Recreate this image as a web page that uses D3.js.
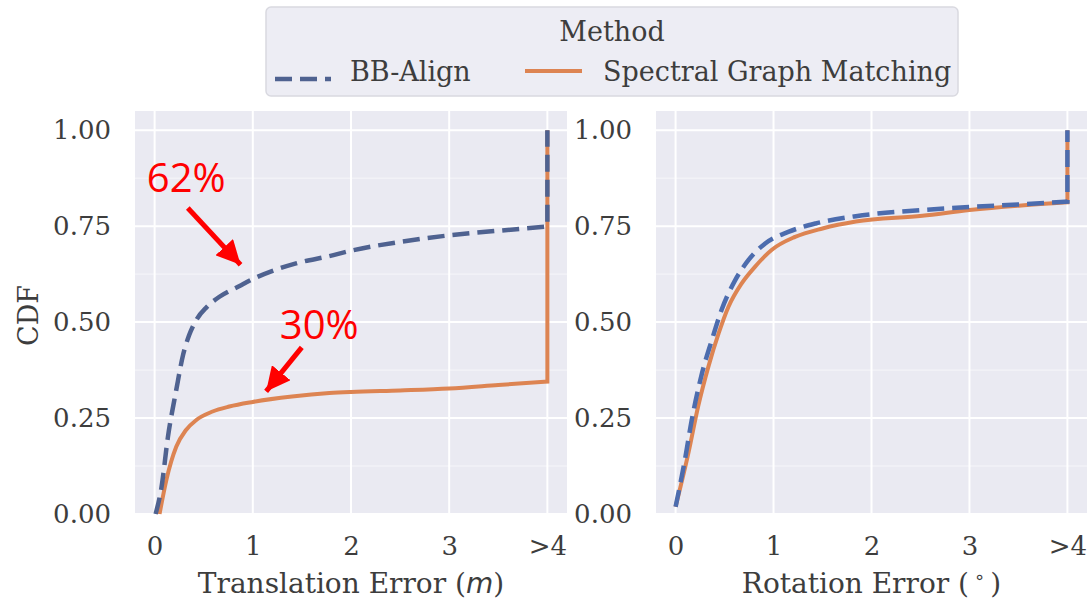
<!DOCTYPE html>
<html lang="en">
<head>
<meta charset="UTF-8">
<title>CDF</title>
<script src="https://d3js.org/d3.v7.min.js"></script>
<style>
  body { margin: 0; background: #fff; }
  svg { display: block; }
  text { font-family: 'DejaVu Serif', serif; fill: #3d3d3d; }
  text.note { font-family: 'Open Sans', 'Noto Sans', sans-serif; fill: #ff0000; }
</style>
</head>
<body>
<div id="chart"></div>
<script>
const xTicks = [0, 1, 2, 3, 4];
const xTickLabels = ['0', '1', '2', '3', '>4'];
const yTicks = [0, 0.25, 0.5, 0.75, 1];
const yMinor = [0.125, 0.375, 0.625, 0.875];
const methods = ['BB-Align', 'Spectral Graph Matching'];

// translation error (m), last point = the ">4" jump
const transBB = [[0.01, 0], [0.07, 0.07], [0.135, 0.2], [0.22, 0.323], [0.29, 0.415], [0.35, 0.465],
  [0.43, 0.508], [0.53, 0.539], [0.66, 0.566], [0.865, 0.594], [1.0, 0.612], [1.44, 0.653], [1.78, 0.672],
  [2.0, 0.686], [2.5, 0.709], [3.0, 0.726], [3.5, 0.738], [4.0, 0.749], [4.0, 1.0]];
const transSGM = [[0.05, 0], [0.12, 0.089], [0.22, 0.175], [0.32, 0.219], [0.425, 0.245], [0.59, 0.267],
  [0.76, 0.28], [1.0, 0.292], [1.4, 0.306], [1.78, 0.315], [2.0, 0.318], [2.5, 0.322],
  [3.0, 0.327], [3.5, 0.336], [4.0, 0.345], [4.0, 1.0]];

// rotation error (deg)
const rotBB = [[0.0, 0.019], [0.095, 0.141], [0.165, 0.245], [0.27, 0.367], [0.37, 0.453], [0.47, 0.532],
  [0.61, 0.61], [0.745, 0.662], [0.915, 0.705], [1.15, 0.735], [1.43, 0.757], [1.84, 0.776],
  [2.52, 0.792], [3.0, 0.8], [3.53, 0.807], [4.0, 0.814], [4.0, 1.0]];
const rotSGM = [[0.0, 0.019], [0.13, 0.158], [0.23, 0.28], [0.335, 0.384], [0.44, 0.471], [0.54, 0.54],
  [0.675, 0.601], [0.81, 0.644], [0.98, 0.688], [1.22, 0.722], [1.5, 0.744], [1.84, 0.762],
  [2.52, 0.777], [3.0, 0.792], [3.53, 0.804], [4.0, 0.812], [4.0, 1.0]];

const notes = [
  { label: '62%', x: 1.0, y: 0.615 },
  { label: '30%', x: 1.02, y: 0.283 }
];

const W = 1089, H = 603;
const blueL = '#4f6290', blueR = '#4c6cae', orange = '#dd8452', bg = '#eaeaf2';

const svg = d3.select('#chart').append('svg')
  .attr('width', W).attr('height', H);

svg.append('defs').append('marker')
  .attr('id', 'head')
  .attr('viewBox', '0 0 10 10')
  .attr('refX', 10).attr('refY', 5)
  .attr('markerUnits', 'userSpaceOnUse')
  .attr('markerWidth', 24).attr('markerHeight', 24)
  .attr('orient', 'auto')
  .append('path').attr('d', 'M0,0L10,5L0,10z').attr('fill', '#ff0000');

const y = d3.scaleLinear().domain([0, 1.05]).range([514, 111]);

const panels = [
  { range: [135, 567], bb: transBB, sgm: transSGM, label: 'trans', blue: blueL },
  { range: [656, 1087], bb: rotBB, sgm: rotSGM, label: 'rot', blue: blueR }
];

panels.forEach((p, i) => {
  const x = d3.scaleLinear().domain([-0.2, 4.2]).range(p.range);
  const g = svg.append('g');

  g.append('rect')
    .attr('x', p.range[0]).attr('y', y(1.05))
    .attr('width', p.range[1] - p.range[0]).attr('height', y(0) - y(1.05))
    .attr('fill', bg);

  // grid
  g.selectAll('.minor').data(yMinor).join('line')
    .attr('x1', p.range[0]).attr('x2', p.range[1])
    .attr('y1', d => y(d)).attr('y2', d => y(d))
    .attr('stroke', '#fff').attr('stroke-opacity', 0.6).attr('stroke-width', 1);
  g.selectAll('.hmaj').data(yTicks).join('line')
    .attr('x1', p.range[0]).attr('x2', p.range[1])
    .attr('y1', d => y(d)).attr('y2', d => y(d))
    .attr('stroke', '#fff').attr('stroke-width', 2);
  g.selectAll('.vmaj').data(xTicks).join('line')
    .attr('x1', d => x(d)).attr('x2', d => x(d))
    .attr('y1', y(1.05)).attr('y2', y(0))
    .attr('stroke', '#fff').attr('stroke-width', 2);

  // axes
  const yAxis = d3.axisLeft(y).tickValues(yTicks).tickSize(0).tickPadding(24)
    .tickFormat(d3.format('.2f'));
  const ya = g.append('g').attr('transform', `translate(${p.range[0]},0)`).call(yAxis);
  const xAxis = d3.axisBottom(x).tickValues(xTicks).tickSize(0).tickPadding(23)
    .tickFormat((d, k) => xTickLabels[k]);
  const xa = g.append('g').attr('transform', `translate(0,${y(0)})`).call(xAxis);
  [ya, xa].forEach(a => {
    a.select('.domain').remove();
    a.selectAll('text').attr('font-size', 26).attr('font-family', 'DejaVu Serif').attr('fill', '#444');
  });

  // lines
  const line = d3.line().x(d => x(d[0])).y(d => y(d[1])).curve(d3.curveMonotoneX);
  const path = pts => {
    const last = pts[pts.length - 1];
    return line(pts.slice(0, -1)) + `L${x(last[0])},${y(last[1])}`;
  };
  g.append('path').attr('d', path(p.sgm))
    .attr('fill', 'none').attr('stroke', orange).attr('stroke-width', 4);
  g.append('path').attr('d', path(p.bb))
    .attr('fill', 'none').attr('stroke', p.blue).attr('stroke-width', 4.5)
    .attr('stroke-dasharray', '17,8');

  // x label
  const cx = (p.range[0] + p.range[1]) / 2;
  const t = g.append('text').attr('x', cx).attr('y', 593)
    .attr('text-anchor', 'middle').attr('font-size', 28);
  if (p.label === 'trans') {
    t.append('tspan').text('Translation Error (');
    t.append('tspan').text('m').attr('font-family', 'DejaVu Sans').attr('font-style', 'italic');
    t.append('tspan').text(')');
  } else {
    t.append('tspan').text('Rotation Error (');
    t.append('tspan').text('∘').attr('font-family', 'DejaVu Sans').attr('font-size', 18)
      .attr('dx', 5).attr('dy', -10);
    t.append('tspan').text(')').attr('dx', 5).attr('dy', 10);
  }

  if (i === 0) {
    svg.append('text')
      .attr('transform', `translate(38,${(y(0) + y(1.05)) / 2 + 3}) rotate(-90)`)
      .attr('text-anchor', 'middle').attr('font-size', 27)
      .text('CDF');

    // annotations
    const offs = [{ tx: -106, ty: -86, ax: -65, ay: -70 }, { tx: 25, ty: -66, ax: 47, ay: -58 }];
    notes.forEach((n, k) => {
      const px = x(n.x), py = y(n.y), o = offs[k];
      const len = Math.hypot(o.ax, o.ay);
      svg.append('line')
        .attr('x1', px + o.ax).attr('y1', py + o.ay)
        .attr('x2', px + o.ax * 18 / len).attr('y2', py + o.ay * 18 / len)
        .attr('stroke', '#ff0000').attr('stroke-width', 5)
        .attr('marker-end', 'url(#head)');
      svg.append('text')
        .attr('class', 'note')
        .attr('x', px + o.tx).attr('y', py + o.ty)
        .attr('font-size', 40)
        .text(n.label);
    });
  }
});

// legend
const lg = svg.append('g');
lg.append('rect').attr('x', 266).attr('y', 7).attr('width', 692).attr('height', 89)
  .attr('rx', 5).attr('fill', '#ededf4').attr('stroke', '#d9d9e0').attr('stroke-width', 1.5);
lg.append('text').attr('x', 612).attr('y', 41).attr('text-anchor', 'middle')
  .attr('font-size', 27).text('Method');
lg.append('line').attr('x1', 275).attr('x2', 331).attr('y1', 79).attr('y2', 79)
  .attr('stroke', blueL).attr('stroke-width', 4.5).attr('stroke-dasharray', '17,8');
lg.append('text').attr('x', 350).attr('y', 81).attr('font-size', 27).text(methods[0]);
lg.append('line').attr('x1', 525).attr('x2', 582).attr('y1', 71).attr('y2', 71)
  .attr('stroke', orange).attr('stroke-width', 4);
lg.append('text').attr('x', 603).attr('y', 81).attr('font-size', 27).text(methods[1]);
</script>
</body>
</html>
